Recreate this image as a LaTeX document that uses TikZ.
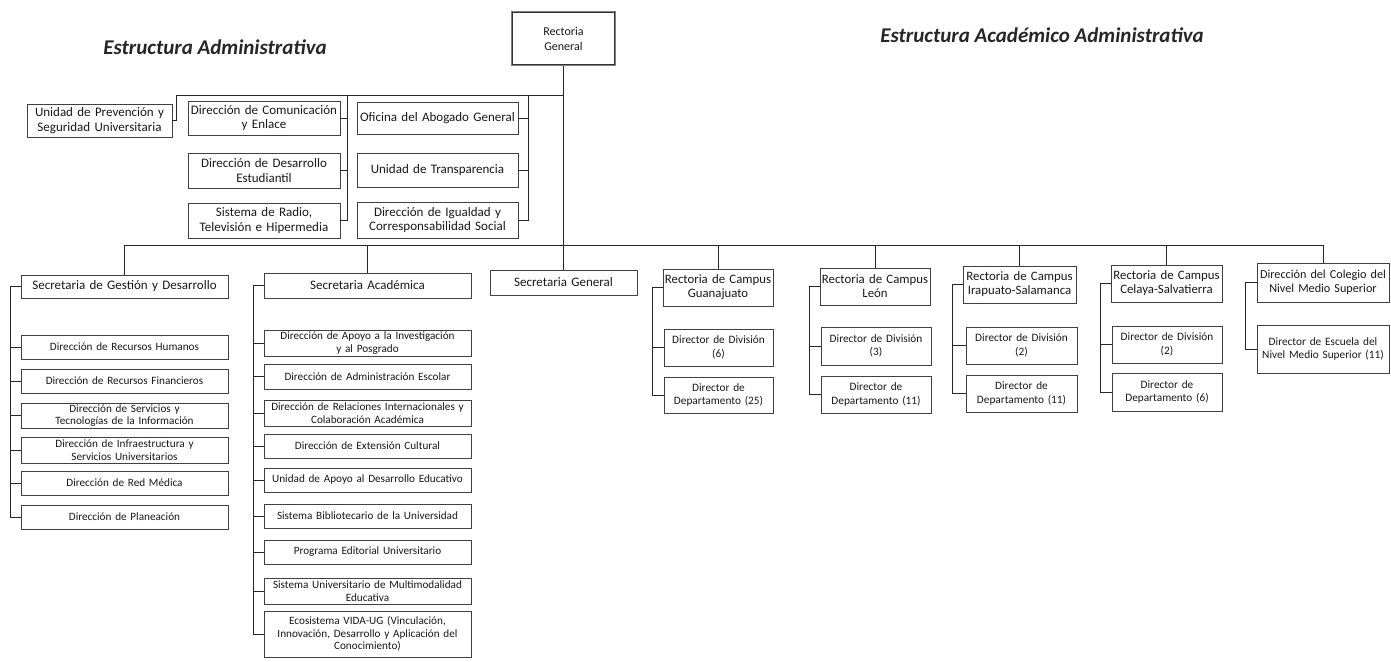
\documentclass[tikz,border=0pt]{standalone}
\usepackage{fontspec}
\setmainfont{Carlito}
\newcommand\obox[7]{%
 \pgfmathsetmacro\obW{#4-#2}\pgfmathsetmacro\obH{#5-#3}%
 \pgfmathsetmacro\obCX{(#2+#4)/2}\pgfmathsetmacro\obCY{(#3+#5)/2}%
 \pgfmathsetmacro\obTW{#4-#2}%
 \node[#6, minimum width=\obW pt, minimum height=\obH pt, text width=\obTW pt] (#1) at (\obCX,\obCY) {#7};}
\begin{document}
\begin{tikzpicture}[x=1pt,y=-1pt,
  obx/.style={draw=black!75, line width=0.7pt, fill=white, inner sep=0pt, align=center, text=black!90},
  topb/.style={obx, font=\fontsize{13}{14.5}\selectfont},
  secb/.style={obx, font=\fontsize{13}{15}\selectfont},
  subb/.style={obx, font=\fontsize{11.2}{12.5}\selectfont},
  camb/.style={obx, font=\fontsize{12.8}{14}\selectfont},
  colb/.style={obx, font=\fontsize{12.2}{14}\selectfont},
  dirb/.style={obx, font=\fontsize{11.3}{13.5}\selectfont},
  rgx/.style={obx, draw=black!50, line width=2.6pt, font=\fontsize{12}{15}\selectfont},
  conn/.style={draw=black!85, line width=0.8pt},
  ttl/.style={font=\fontsize{21}{25}\selectfont\bfseries\itshape, text=black!85, inner sep=0pt}]
\useasboundingbox (0,0) rectangle (1391,661);
\fill[white] (0,0) rectangle (1391,661);

% titles
\node[ttl] (t1) at (215,47) {Estructura Administrativa};
\node[ttl] (t2) at (1042,35) {Estructura Académico Administrativa};

% Rectoria General
\obox{rg}{512}{12}{615}{65}{rgx}{Rectoria\\General}
\draw[black!80, line width=0.5pt] ([shift={(1.8,1.8)}]rg.north west) rectangle ([shift={(-1.8,-1.8)}]rg.south east);

% top structure
\obox{up}{27}{104}{172}{137}{topb}{Unidad de Prevención y\\Seguridad Universitaria}
\obox{dc}{188}{101}{340}{135}{topb}{Dirección de Comunicación\\y Enlace}
\obox{dd}{188}{153}{340}{188}{topb}{Dirección de Desarrollo\\Estudiantil}
\obox{dr}{188}{203}{340}{238}{topb}{Sistema de Radio,\\Televisión e Hipermedia}
\obox{oa}{357}{102}{518}{134}{topb}{Oficina del Abogado General}
\obox{ut}{357}{153}{518}{187}{topb}{Unidad de Transparencia}
\obox{di}{357}{202}{518}{238}{topb}{Dirección de Igualdad y\\Corresponsabilidad Social}

\coordinate (tb) at (176,95);
\coordinate (c2) at (347,95);
\coordinate (c3) at (528,95);
\draw[conn] (up.east) -| (tb) -- (rg.south |- tb);
\draw[conn] (c2) -- (dr.east -| c2) -- (dr.east);
\draw[conn] (dc.east) -- (dc.east -| c2);
\draw[conn] (dd.east) -- (dd.east -| c2);
\draw[conn] (c3) -- (di.east -| c3) -- (di.east);
\draw[conn] (oa.east) -- (oa.east -| c3);
\draw[conn] (ut.east) -- (ut.east -| c3);

% second level
\obox{sgd}{21}{275}{228}{298}{secb}{Secretaria de Gestión y Desarrollo}
\obox{sa}{264}{273}{471}{298}{secb}{Secretaria Académica}
\obox{sg}{490}{270}{637}{295}{secb}{Secretaria General}
\obox{cg}{663}{269}{773}{306}{camb}{Rectoria de Campus\\Guanajuato}
\obox{cl}{820}{268}{930}{305}{camb}{Rectoria de Campus\\León}
\obox{ci}{963}{266}{1076}{303}{camb}{Rectoria de Campus\\Irapuato-Salamanca}
\obox{cc}{1111}{265}{1222}{302}{camb}{Rectoria de Campus\\Celaya-Salvatierra}
\obox{cn}{1257}{263}{1389}{302}{colb}{Dirección del Colegio del\\Nivel Medio Superior}

\coordinate (bus) at (0,245);
\draw[conn] (rg.south) -- (sg.north);
\draw[conn] (sgd.north) -- (sgd.north |- bus) -- (cn.north |- bus) -- (cn.north);
\draw[conn] (sa.north) -- (sa.north |- bus);
\draw[conn] (cg.north) -- (cg.north |- bus);
\draw[conn] (cl.north) -- (cl.north |- bus);
\draw[conn] (ci.north) -- (ci.north |- bus);
\draw[conn] (cc.north) -- (cc.north |- bus);

% Secretaria de Gestion y Desarrollo
\obox{rh}{21}{335}{228}{359}{subb}{Dirección de Recursos Humanos}
\obox{rf}{21}{369}{228}{393}{subb}{Dirección de Recursos Financieros}
\obox{st}{21}{403}{228}{428}{subb}{Dirección de Servicios y\\Tecnologías de la Información}
\obox{in}{21}{437}{228}{463}{subb}{Dirección de  Infraestructura y\\Servicios Universitarios}
\obox{rm}{21}{471}{228}{495}{subb}{Dirección de Red Médica}
\obox{pl}{21}{505}{228}{529}{subb}{Dirección de Planeación}
\coordinate (b1) at (10,0);
\draw[conn] (sgd.west) -- (sgd.west -| b1) -- (pl.west -| b1) -- (pl.west);
\foreach \n in {rh,rf,st,in,rm} \draw[conn] (\n.west) -- (\n.west -| b1);

% Secretaria Academica
\obox{ai}{264}{330}{471}{356}{subb}{Dirección de Apoyo a la Investigación\\y al Posgrado}
\obox{ae}{264}{364}{471}{389}{subb}{Dirección de Administración Escolar}
\obox{ri}{264}{400}{471}{426}{subb}{Dirección de Relaciones Internacionales y\\Colaboración Académica}
\obox{ec}{264}{434}{471}{458}{subb}{Dirección de Extensión Cultural}
\obox{ua}{264}{468}{471}{492}{subb}{Unidad de Apoyo al Desarrollo Educativo}
\obox{sb}{264}{504}{471}{528}{subb}{Sistema Bibliotecario de la Universidad}
\obox{pe}{264}{540}{471}{564}{subb}{Programa Editorial Universitario}
\obox{sm}{264}{578}{471}{604}{subb}{Sistema Universitario de Multimodalidad\\Educativa}
\obox{ev}{264}{611}{471}{657}{subb}{Ecosistema VIDA-UG (Vinculación,\\Innovación, Desarrollo y Aplicación del\\Conocimiento)}
\coordinate (b2) at (253,0);
\draw[conn] (sa.west) -- (sa.west -| b2) -- (ev.west -| b2) -- (ev.west);
\foreach \n in {ai,ae,ri,ec,ua,sb,pe,sm} \draw[conn] (\n.west) -- (\n.west -| b2);

% Campus
\obox{gd}{664}{329}{773}{366}{dirb}{Director de División\\(6)}
\obox{gp}{664}{377}{773}{413}{dirb}{Director de\\Departamento (25)}
\coordinate (b3) at (652,0);
\draw[conn] (cg.west) -- (cg.west -| b3) -- (gp.west -| b3) -- (gp.west);
\draw[conn] (gd.west) -- (gd.west -| b3);

\obox{ld}{821}{327}{931}{365}{dirb}{Director de División\\(3)}
\obox{lp}{821}{376}{931}{413}{dirb}{Director de\\Departamento (11)}
\coordinate (b4) at (809,0);
\draw[conn] (cl.west) -- (cl.west -| b4) -- (lp.west -| b4) -- (lp.west);
\draw[conn] (ld.west) -- (ld.west -| b4);

\obox{id}{966}{327}{1077}{364}{dirb}{Director de División\\(2)}
\obox{ip}{966}{375}{1077}{412}{dirb}{Director de\\Departamento (11)}
\coordinate (b5) at (952,0);
\draw[conn] (ci.west) -- (ci.west -| b5) -- (ip.west -| b5) -- (ip.west);
\draw[conn] (id.west) -- (id.west -| b5);

\obox{yd}{1112}{326}{1222}{363}{dirb}{Director de División\\(2)}
\obox{yp}{1112}{373}{1222}{411}{dirb}{Director de\\Departamento (6)}
\coordinate (b6) at (1100,0);
\draw[conn] (cc.west) -- (cc.west -| b6) -- (yp.west -| b6) -- (yp.west);
\draw[conn] (yd.west) -- (yd.west -| b6);

\obox{nd}{1257}{325}{1389}{373}{dirb}{Director de Escuela del\\Nivel Medio Superior (11)}
\coordinate (b7) at (1245,0);
\draw[conn] (cn.west) -- (cn.west -| b7) -- (nd.west -| b7) -- (nd.west);
\end{tikzpicture}
\end{document}
